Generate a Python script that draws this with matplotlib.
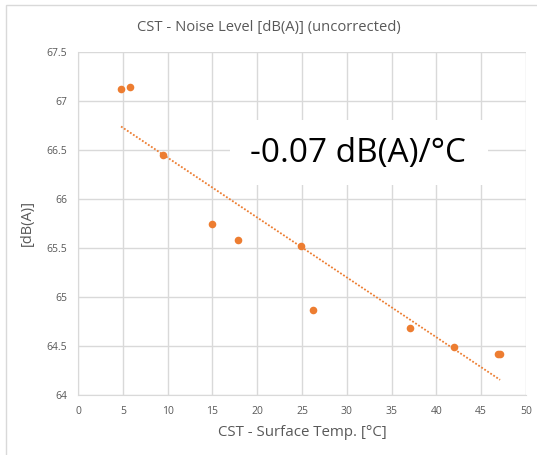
import numpy as np
import matplotlib.pyplot as plt
from matplotlib.patches import Rectangle

plt.rcParams['font.family'] = ['Open Sans', 'DejaVu Sans']

# surface temperature [°C] and noise level [dB(A)]
temp = [4.8, 5.8, 9.5, 15.0, 17.8, 24.9, 26.2, 37.1, 42.0, 46.9, 47.1]
noise = [67.12, 67.14, 66.45, 65.74, 65.58, 65.52, 64.87, 64.68, 64.49, 64.42, 64.42]

title = "CST - Noise Level [dB(A)] (uncorrected)"
xlabel = "CST - Surface Temp. [°C]"
ylabel = "[dB(A)]"
slope_label = "-0.07 dB(A)/°C"

orange = "#ED7D31"
grid_col = "#D9D9D9"
text_col = "#595959"

fig = plt.figure(figsize=(5.37, 4.55), dpi=100)
ax = fig.add_axes([0.1453, 0.1319, 0.8343, 0.7538])

# outer chart border
fig.patches.append(Rectangle((6 / 537, -0.01), 1.0, 1 - 5 / 455 + 0.01,
                             transform=fig.transFigure, fill=False,
                             edgecolor=grid_col, linewidth=1.0))

ax.scatter(temp, noise, s=30, color=orange, zorder=4, linewidths=0)

# linear trendline
k, b = np.polyfit(temp, noise, 1)
xs = np.array([min(temp), max(temp)])
ax.plot(xs, k * xs + b, color=orange, linestyle=(0, (1, 1)), linewidth=1.3, zorder=3)

ax.set_xlim(0, 50)
ax.set_ylim(64, 67.5)
ax.set_xticks(np.arange(0, 51, 5))
ax.set_yticks(np.arange(64, 67.6, 0.5))
ax.set_yticklabels(["64", "64.5", "65", "65.5", "66", "66.5", "67", "67.5"])
ax.grid(True, color=grid_col, linewidth=1.0)
ax.set_axisbelow(True)
for side in ax.spines:
    ax.spines[side].set_visible(False)
ax.spines['left'].set_visible(True)
ax.spines['bottom'].set_visible(True)
ax.spines['left'].set_color(grid_col)
ax.spines['bottom'].set_color(grid_col)
ax.tick_params(length=0, labelsize=7.5, labelcolor=text_col, pad=8)

# title is centred on the whole chart, like Excel does
fig.text(0.5, 1 - 27 / 455, title, fontsize=10.6, color=text_col,
         ha="center", va="center")
ax.set_xlabel(xlabel, fontsize=10.8, color=text_col, labelpad=6)
ax.set_ylabel(ylabel, fontsize=10.5, color=text_col, labelpad=8)

# white box with slope annotation
ax.add_patch(Rectangle((0.339, 0.612), 0.576, 0.19, transform=ax.transAxes,
                       facecolor="white", edgecolor="none", zorder=2))
ax.text(0.625, 0.705, slope_label, transform=ax.transAxes, fontsize=24,
        ha="center", va="center", color="black", zorder=5)

fig.savefig("out.png", dpi=100)
